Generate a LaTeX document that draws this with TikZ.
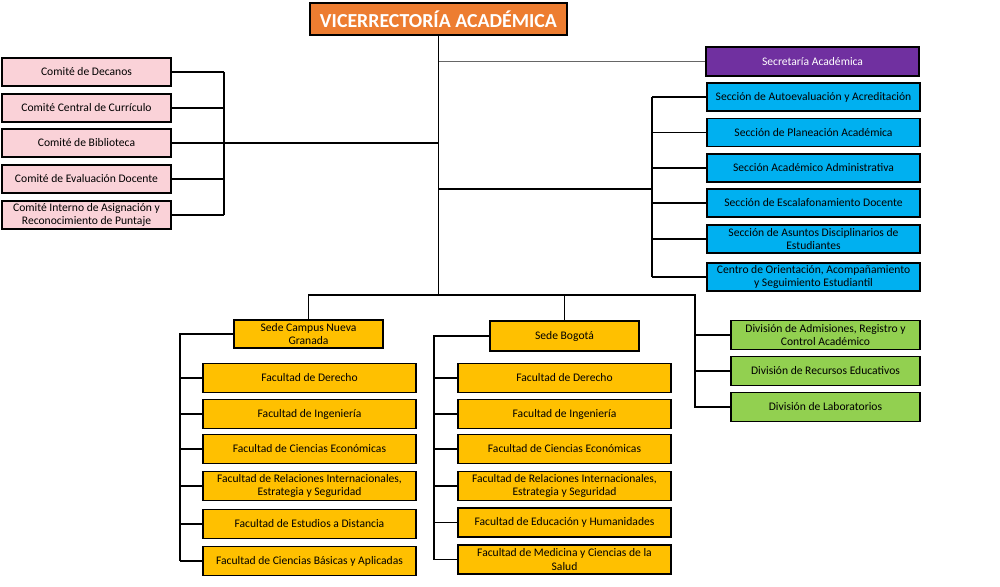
\documentclass[tikz,border=0pt]{standalone}
\usepackage{fontspec}
\setmainfont{Carlito}
\usetikzlibrary{calc}

\definecolor{vraorange}{HTML}{ED7D31}
\definecolor{secpurple}{HTML}{7030A0}
\definecolor{seccyan}{HTML}{00B0F0}
\definecolor{divgreen}{HTML}{92D050}
\definecolor{sedeamber}{HTML}{FFC000}
\definecolor{compink}{HTML}{FAD2D8}

\tikzset{
  unit/.style={draw=black, line width=1.1pt, rectangle, align=center, inner sep=1pt,
    font=\fontsize{6.6}{7.6}\selectfont},
  link/.style={line width=1.1pt},
  thinlink/.style={line width=0.6pt},
}

\begin{document}
\begin{tikzpicture}[x=0.02cm, y=-0.02cm]
  \useasboundingbox (0,0) rectangle (1000,587);

  % head
  \node[unit, fill=vraorange, text=white, minimum width=5.14cm, minimum height=0.64cm,
    font=\bfseries\fontsize{11.3}{13}\selectfont] (vra) at (438.5,19) {VICERRECTORÍA ACADÉMICA};

  % committees
  \foreach \y/\txt [count=\i] in {72/{Comité de Decanos}, 108/{Comité Central de Currículo},
      143/{Comité de Biblioteca}, 179/{Comité de Evaluación Docente},
      215/{Comité Interno de Asignación y\\Reconocimiento de Puntaje}}{
    \node[unit, fill=compink, minimum width=3.38cm, minimum height=0.56cm] (com\i) at (86.5,\y) {\txt};
  }

  % secretaria and sections
  \node[unit, fill=secpurple, text=white, minimum width=4.26cm, minimum height=0.58cm] (sec) at (812.5,61.5) {Secretaría Académica};
  \foreach \y/\txt [count=\i] in {97/{Sección de Autoevaluación y Acreditación},
      132.5/{Sección de Planeación Académica}, 168/{Sección Académico Administrativa},
      203/{Sección de Escalafonamiento Docente},
      239/{Sección de Asuntos Disciplinarios de\\Estudiantes},
      277/{Centro de Orientación, Acompañamiento\\y Seguimiento Estudiantil}}{
    \node[unit, fill=seccyan, minimum width=4.26cm, minimum height=0.56cm] (sc\i) at (813.5,\y) {\txt};
  }

  % divisions
  \foreach \y/\txt [count=\i] in {335/{División de Admisiones, Registro y\\Control Académico},
      371/{División de Recursos Educativos}, 407/{División de Laboratorios}}{
    \node[unit, fill=divgreen, minimum width=3.78cm, minimum height=0.58cm] (div\i) at (825.5,\y) {\txt};
  }

  % sedes
  \node[unit, fill=sedeamber, line width=0.6pt, minimum width=2.98cm, minimum height=0.56cm] (sedeC) at (308.5,334) {Sede Campus Nueva\\Granada};
  \node[unit, fill=sedeamber, minimum width=2.98cm, minimum height=0.6cm] (sedeB) at (564.5,336) {Sede Bogotá};

  \foreach \y/\txt [count=\i] in {378/{Facultad de Derecho}, 414/{Facultad de Ingeniería},
      449/{Facultad de Ciencias Económicas},
      486/{Facultad de Relaciones Internacionales,\\Estrategia y Seguridad},
      524/{Facultad de Estudios a Distancia}, 561/{Facultad de Ciencias Básicas y Aplicadas}}{
    \node[unit, fill=sedeamber, minimum width=4.26cm, minimum height=0.58cm] (fc\i) at (309.5,\y) {\txt};
  }
  \foreach \y/\txt [count=\i] in {378/{Facultad de Derecho}, 414/{Facultad de Ingeniería},
      449/{Facultad de Ciencias Económicas},
      486/{Facultad de Relaciones Internacionales,\\Estrategia y Seguridad},
      522.5/{Facultad de Educación y Humanidades}, 559.5/{Facultad de Medicina y Ciencias de la\\Salud}}{
    \node[unit, fill=sedeamber, minimum width=4.26cm, minimum height=0.58cm] (fb\i) at (564.5,\y) {\txt};
  }

  % connectors
  \coordinate (bus) at (695,295);
  \coordinate (cbar) at (224,0);
  \coordinate (sbar) at (652,189);
  \coordinate (fcbar) at (180,0);
  \coordinate (fbbar) at (434,0);

  \draw[link] (vra.south) -- (vra.south |- bus);
  \draw[link] (sedeC.north) |- (bus) |- (div3.west);
  \draw[link] (sedeB.north) -- (sedeB.north |- bus);
  \foreach \i in {1,2}{
    \draw[link] (div\i.west) -- (div\i.west -| bus);
  }
  \draw[thinlink, black!60] (sec.west) -- (sec.west -| vra.south);

  \draw[link] (com3.east) -- (com3.east -| vra.south);
  \draw[link] (com1.east -| cbar) -- (com5.east -| cbar);
  \foreach \i in {1,2,5}{
    \draw[link] (com\i.east) -- (com\i.east -| cbar);
  }
  \draw[thinlink] (com4.east) -- (com4.east -| cbar);

  \draw[link] (sbar -| vra.south) -- (sbar);
  \draw[link] (sc1.west -| sbar) -- (sc6.west -| sbar);
  \foreach \i in {1,...,6}{
    \draw[link] (sc\i.west) -- (sc\i.west -| sbar);
  }

  \draw[link] (sedeC.west) -| (fc6.west -| fcbar);
  \draw[link] (sedeB.west) -| (fb6.west -| fbbar);
  \foreach \i in {1,2,4,5,6}{
    \draw[link] (fc\i.west) -- (fc\i.west -| fcbar);
    \draw[link] (fb\i.west) -- (fb\i.west -| fbbar);
  }
  \draw[thinlink] (fc3.west) -- (fc3.west -| fcbar);
  \draw[thinlink] (fb3.west) -- (fb3.west -| fbbar);
\end{tikzpicture}
\end{document}
